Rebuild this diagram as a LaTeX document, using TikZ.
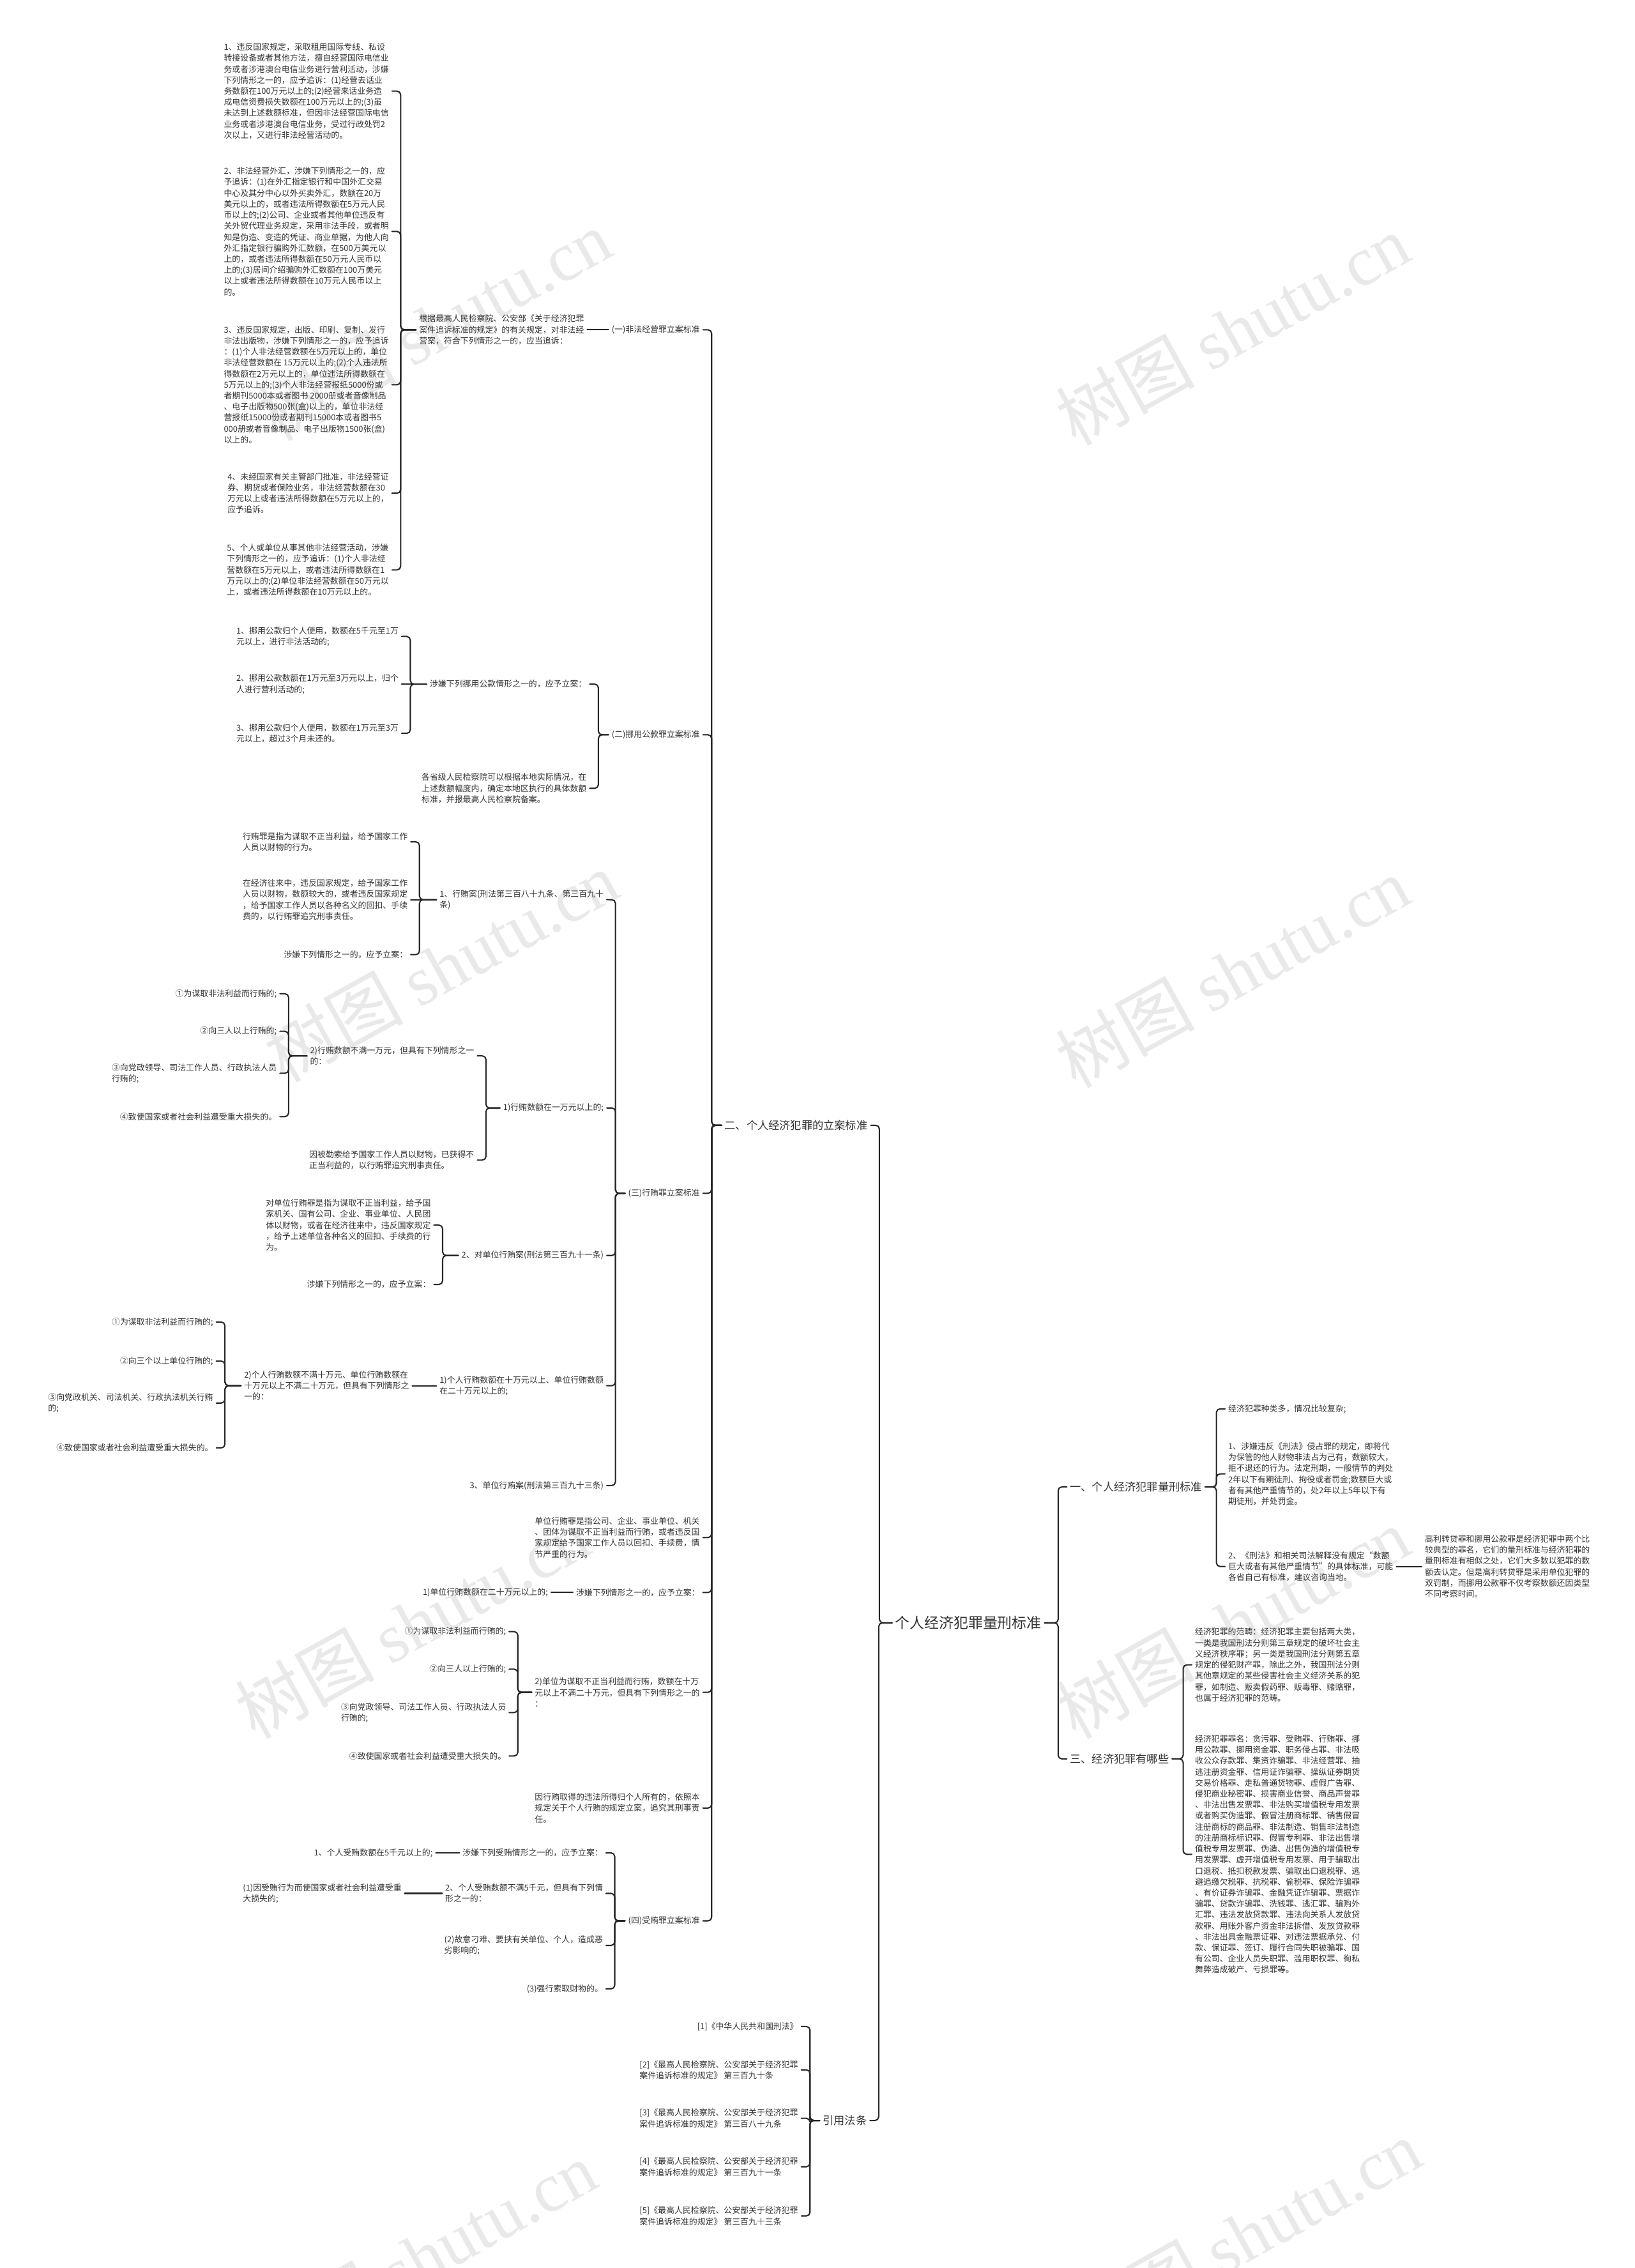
\documentclass[tikz,border=0pt]{standalone}
\usepackage{fontspec}
\setmainfont{Noto Sans CJK SC}
\newfontfamily\wmfont{Liberation Serif}
\begin{document}
\begin{tikzpicture}[x=1pt,y=-1pt,line join=round,line cap=round,
  every node/.style={font=\fontsize{5.7}{7.6}\selectfont,text=black!80,inner xsep=2pt,inner ysep=1pt,align=left},
  link/.style={line width=0.9pt,draw=black!85,rounded corners=2.5pt},
  lvone/.style={font=\fontsize{7.6}{9}\selectfont},
  wmark/.style={font=\fontsize{48}{48}\selectfont,text=gray!17,rotate=29,inner sep=0pt}]
\fill[white] (0,0) rectangle (1130,1568);
\path[use as bounding box] (0,0) rectangle (1130,1568);
% watermark
\foreach \wx/\wy [count=\i] in {300/225,852/228,305/668,852/672,285/1122,852/1122,290/1560,860/1545}
  \node[wmark] (wm\i) at (\wx,\wy) {树图 {\wmfont shutu.cn}};

% root and first level
\node[font=\fontsize{10.1}{12}\selectfont] (root) at (669.5,1122) {个人经济犯罪量刑标准};
\node[lvone,anchor=east] (two) at (602,778) {二、个人经济犯罪的立案标准};
\node[lvone,anchor=east] (cite) at (601.5,1466) {引用法条};
\node[lvone,anchor=west] (one) at (737.6,1028) {一、个人经济犯罪量刑标准};
\node[lvone,anchor=west] (three) at (737.6,1216) {三、经济犯罪有哪些};

% second level under two
\node[anchor=east] (sA) at (486,228) {(一)非法经营罪立案标准};
\node[anchor=east] (sB) at (486,508) {(二)挪用公款罪立案标准};
\node[anchor=east] (sC) at (486,825) {(三)行贿罪立案标准};
\node[anchor=east] (dA) at (486,1063) {单位行贿罪是指公司、企业、事业单位、机关\\、团体为谋取不正当利益而行贿，或者违反国\\家规定给予国家工作人员以回扣、手续费，情\\节严重的行为。};
\node[anchor=east] (dB) at (486,1101) {涉嫌下列情形之一的，应予立案：};
\node[anchor=east] (dC) at (486,1170) {2)单位为谋取不正当利益而行贿，数额在十万\\元以上不满二十万元，但具有下列情形之一的\\：};
\node[anchor=east] (dD) at (486,1250) {因行贿取得的违法所得归个人所有的，依照本\\规定关于个人行贿的规定立案，追究其刑事责\\任。};
\node[anchor=east] (sD) at (486,1328) {(四)受贿罪立案标准};

% (一)
\node[anchor=east] (aA) at (406,228) {根据最高人民检察院、公安部《关于经济犯罪\\案件追诉标准的规定》的有关规定，对非法经\\营案，符合下列情形之一的，应当追诉：};
\node[anchor=east] (eA) at (271,63) {1、违反国家规定，采取租用国际专线、私设\\转接设备或者其他方法，擅自经营国际电信业\\务或者涉港澳台电信业务进行营利活动，涉嫌\\下列情形之一的，应予追诉：(1)经营去话业\\务数额在100万元以上的;(2)经营来话业务造\\成电信资费损失数额在100万元以上的;(3)虽\\未达到上述数额标准，但因非法经营国际电信\\业务或者涉港澳台电信业务，受过行政处罚2\\次以上，又进行非法经营活动的。};
\node[anchor=east] (eB) at (271,160) {2、非法经营外汇，涉嫌下列情形之一的，应\\予追诉：(1)在外汇指定银行和中国外汇交易\\中心及其分中心以外买卖外汇，数额在20万\\美元以上的，或者违法所得数额在5万元人民\\币以上的;(2)公司、企业或者其他单位违反有\\关外贸代理业务规定，采用非法手段，或者明\\知是伪造、变造的凭证、商业单据，为他人向\\外汇指定银行骗购外汇数额，在500万美元以\\上的，或者违法所得数额在50万元人民币以\\上的;(3)居间介绍骗购外汇数额在100万美元\\以上或者违法所得数额在10万元人民币以上\\的。};
\node[anchor=east] (eC) at (271,266) {3、违反国家规定，出版、印刷、复制、发行\\非法出版物，涉嫌下列情形之一的，应予追诉\\：(1)个人非法经营数额在5万元以上的，单位\\非法经营数额在 15万元以上的;(2)个人违法所\\得数额在2万元以上的，单位违法所得数额在\\5万元以上的;(3)个人非法经营报纸5000份或\\者期刊5000本或者图书 2000册或者音像制品\\、电子出版物500张(盒)以上的，单位非法经\\营报纸15000份或者期刊15000本或者图书5\\000册或者音像制品、电子出版物1500张(盒)\\以上的。};
\node[anchor=east] (eD) at (271,341) {4、未经国家有关主管部门批准，非法经营证\\券、期货或者保险业务，非法经营数额在30\\万元以上或者违法所得数额在5万元以上的，\\应予追诉。};
\node[anchor=east] (eE) at (271,394) {5、个人或单位从事其他非法经营活动，涉嫌\\下列情形之一的，应予追诉：(1)个人非法经\\营数额在5万元以上，或者违法所得数额在1\\万元以上的;(2)单位非法经营数额在50万元以\\上，或者违法所得数额在10万元以上的。};

% (二)
\node[anchor=east] (bA) at (407.7,473) {涉嫌下列挪用公款情形之一的，应予立案：};
\node[anchor=east] (bB) at (407.7,545) {各省级人民检察院可以根据本地实际情况，在\\上述数额幅度内，确定本地区执行的具体数额\\标准，并报最高人民检察院备案。};
\node[anchor=east] (cA) at (277.7,440) {1、挪用公款归个人使用，数额在5千元至1万\\元以上，进行非法活动的;};
\node[anchor=east] (cB) at (277.7,473) {2、挪用公款数额在1万元至3万元以上，归个\\人进行营利活动的;};
\node[anchor=east] (cC) at (277.7,507) {3、挪用公款归个人使用，数额在1万元至3万\\元以上，超过3个月未还的。};

% (三)
\node[anchor=east] (fA) at (419.5,622) {1、行贿案(刑法第三百八十九条、第三百九十\\条)};
\node[anchor=east] (fB) at (419.5,766) {1)行贿数额在一万元以上的;};
\node[anchor=east] (fC) at (419.5,868) {2、对单位行贿案(刑法第三百九十一条)};
\node[anchor=east] (fD) at (419.5,958) {1)个人行贿数额在十万元以上、单位行贿数额\\在二十万元以上的;};
\node[anchor=east] (fE) at (419.5,1027) {3、单位行贿案(刑法第三百九十三条)};
\node[anchor=east] (gA) at (284,582) {行贿罪是指为谋取不正当利益，给予国家工作\\人员以财物的行为。};
\node[anchor=east] (gB) at (284,622) {在经济往来中，违反国家规定，给予国家工作\\人员以财物，数额较大的，或者违反国家规定\\，给予国家工作人员以各种名义的回扣、手续\\费的，以行贿罪追究刑事责任。};
\node[anchor=east] (gC) at (284,660) {涉嫌下列情形之一的，应予立案：};
\node[anchor=east] (hA) at (330,730) {2)行贿数额不满一万元，但具有下列情形之一\\的：};
\node[anchor=east] (hB) at (330,802) {因被勒索给予国家工作人员以财物，已获得不\\正当利益的，以行贿罪追究刑事责任。};
\node[anchor=east] (iA) at (193.5,687) {①为谋取非法利益而行贿的;};
\node[anchor=east] (iB) at (193.5,713) {②向三人以上行贿的;};
\node[anchor=east] (iC) at (193.5,742) {③向党政领导、司法工作人员、行政执法人员\\行贿的;};
\node[anchor=east] (iD) at (193.5,772) {④致使国家或者社会利益遭受重大损失的。};
\node[anchor=east] (jA) at (300,847) {对单位行贿罪是指为谋取不正当利益，给予国\\家机关、国有公司、企业、事业单位、人民团\\体以财物，或者在经济往来中，违反国家规定\\，给予上述单位各种名义的回扣、手续费的行\\为。};
\node[anchor=east] (jB) at (300,888) {涉嫌下列情形之一的，应予立案：};
\node[anchor=east] (kA) at (285,958) {2)个人行贿数额不满十万元、单位行贿数额在\\十万元以上不满二十万元，但具有下列情形之\\一的：};
\node[anchor=east] (lA) at (149.5,914) {①为谋取非法利益而行贿的;};
\node[anchor=east] (lB) at (149.5,941) {②向三个以上单位行贿的;};
\node[anchor=east] (lC) at (149.5,970) {③向党政机关、司法机关、行政执法机关行贿\\的;};
\node[anchor=east] (lD) at (149.5,1001) {④致使国家或者社会利益遭受重大损失的。};
\node[anchor=east] (mA) at (381,1101) {1)单位行贿数额在二十万元以上的;};
\node[anchor=east] (oA) at (352,1128) {①为谋取非法利益而行贿的;};
\node[anchor=east] (oB) at (352,1154) {②向三人以上行贿的;};
\node[anchor=east] (oC) at (352,1184) {③向党政领导、司法工作人员、行政执法人员\\行贿的;};
\node[anchor=east] (oD) at (352,1214) {④致使国家或者社会利益遭受重大损失的。};

% (四)
\node[anchor=east] (pA) at (419,1281) {涉嫌下列受贿情形之一的，应予立案：};
\node[anchor=east] (pB) at (419,1309) {2、个人受贿数额不满5千元，但具有下列情\\形之一的：};
\node[anchor=east] (pC) at (419,1345) {(2)故意刁难、要挟有关单位、个人，造成恶\\劣影响的;};
\node[anchor=east] (pD) at (419,1375) {(3)强行索取财物的。};
\node[anchor=east] (qA) at (301.3,1281) {1、个人受贿数额在5千元以上的;};
\node[anchor=east] (qB) at (279.8,1309) {(1)因受贿行为而使国家或者社会利益遭受重\\大损失的;};

% citations
\node[anchor=east] (rA) at (554,1401) {[1]《中华人民共和国刑法》};
\node[anchor=east] (rB) at (554,1431) {[2]《最高人民检察院、公安部关于经济犯罪\\案件追诉标准的规定》 第三百九十条};
\node[anchor=east] (rC) at (554,1464.5) {[3]《最高人民检察院、公安部关于经济犯罪\\案件追诉标准的规定》 第三百八十九条};
\node[anchor=east] (rD) at (554,1498) {[4]《最高人民检察院、公安部关于经济犯罪\\案件追诉标准的规定》 第三百九十一条};
\node[anchor=east] (rE) at (554,1532) {[5]《最高人民检察院、公安部关于经济犯罪\\案件追诉标准的规定》 第三百九十三条};

% right side
\node[anchor=west] (tA) at (847,974) {经济犯罪种类多，情况比较复杂;};
\node[anchor=west] (tB) at (847,1019) {1、涉嫌违反《刑法》侵占罪的规定，即将代\\为保管的他人财物非法占为己有，数额较大，\\拒不退还的行为。法定刑期，一般情节的判处\\2年以下有期徒刑、拘役或者罚金;数额巨大或\\者有其他严重情节的，处2年以上5年以下有\\期徒刑，并处罚金。};
\node[anchor=west] (tC) at (847,1083) {2、《刑法》和相关司法解释没有规定“数额\\巨大或者有其他严重情节”的具体标准，可能\\各省自己有标准，建议咨询当地。};
\node[anchor=west] (uA) at (983,1083) {高利转贷罪和挪用公款罪是经济犯罪中两个比\\较典型的罪名，它们的量刑标准与经济犯罪的\\量刑标准有相似之处，它们大多数以犯罪的数\\额去认定。但是高利转贷罪是采用单位犯罪的\\双罚制，而挪用公款罪不仅考察数额还因类型\\不同考察时间。};
\node[anchor=west] (vA) at (824,1151) {经济犯罪的范畴：经济犯罪主要包括两大类，\\一类是我国刑法分则第三章规定的破坏社会主\\义经济秩序罪；另一类是我国刑法分则第五章\\规定的侵犯财产罪，除此之外，我国刑法分则\\其他章规定的某些侵害社会主义经济关系的犯\\罪，如制造、贩卖假药罪、贩毒罪、赌赂罪，\\也属于经济犯罪的范畴。};
\node[anchor=west] (vB) at (824,1282) {经济犯罪罪名：贪污罪、受贿罪、行贿罪、挪\\用公款罪、挪用资金罪、职务侵占罪、非法吸\\收公众存款罪、集资诈骗罪、非法经营罪、抽\\逃注册资金罪、信用证诈骗罪、操纵证券期货\\交易价格罪、走私普通货物罪、虚假广告罪、\\侵犯商业秘密罪、损害商业信誉、商品声誉罪\\、非法出售发票罪、非法购买增值税专用发票\\或者购买伪造罪、假冒注册商标罪、销售假冒\\注册商标的商品罪、非法制造、销售非法制造\\的注册商标标识罪、假冒专利罪、非法出售增\\值税专用发票罪、伪造、出售伪造的增值税专\\用发票罪、虚开增值税专用发票、用于骗取出\\口退税、抵扣税款发票、骗取出口退税罪、逃\\避追缴欠税罪、抗税罪、偷税罪、保险诈骗罪\\、有价证券诈骗罪、金融凭证诈骗罪、票据诈\\骗罪、贷款诈骗罪、洗钱罪、逃汇罪、骗购外\\汇罪、违法发放贷款罪、违法向关系人发放贷\\款罪、用账外客户资金非法拆借、发放贷款罪\\、非法出具金融票证罪、对违法票据承兑、付\\款、保证罪、签订、履行合同失职被骗罪、国\\有公司、企业人员失职罪、滥用职权罪、徇私\\舞弊造成破产、亏损罪等。};

% connectors
\foreach \c in {two,cite} \draw[link] (\c.east) -- ++(6,0) |- (root.west);
\foreach \c in {one,three} \draw[link] (\c.west) -- ++(-6,0) |- (root.east);
\foreach \c in {sA,sB,sC,dA,dB,dC,dD,sD} \draw[link] (\c.east) -- ++(6,0) |- (two.west);
\draw[link] (aA.east) -- (sA.west);
\foreach \c in {eA,eB,eC,eD,eE} \draw[link] (\c.east) -- ++(6,0) |- (aA.west);
\foreach \c in {bA,bB} \draw[link] (\c.east) -- ++(6,0) |- (sB.west);
\foreach \c in {cA,cC} \draw[link] (\c.east) -- ++(6,0) |- (bA.west);
\draw[link] (cB.east) -- (bA.west);
\foreach \c in {fA,fB,fC,fD,fE} \draw[link] (\c.east) -- ++(6,0) |- (sC.west);
\foreach \c in {gA,gC} \draw[link] (\c.east) -- ++(6,0) |- (fA.west);
\draw[link] (gB.east) -- (fA.west);
\foreach \c in {hA,hB} \draw[link] (\c.east) -- ++(6,0) |- (fB.west);
\foreach \c in {iA,iB,iC,iD} \draw[link] (\c.east) -- ++(6,0) |- (hA.west);
\foreach \c in {jA,jB} \draw[link] (\c.east) -- ++(6,0) |- (fC.west);
\draw[link] (kA.east) -- (fD.west);
\foreach \c in {lA,lB,lC,lD} \draw[link] (\c.east) -- ++(6,0) |- (kA.west);
\draw[link] (mA.east) -- (dB.west);
\foreach \c in {oA,oB,oC,oD} \draw[link] (\c.east) -- ++(6,0) |- (dC.west);
\foreach \c in {pA,pB,pC,pD} \draw[link] (\c.east) -- ++(6,0) |- (sD.west);
\draw[link] (qA.east) -- (pA.west);
\draw[link] (qB.east) -- (pB.west);
\foreach \c in {rA,rB,rC,rD,rE} \draw[link] (\c.east) -- ++(6,0) |- (cite.west);
\foreach \c in {tA,tB,tC} \draw[link] (\c.west) -- ++(-6,0) |- (one.east);
\draw[link] (uA.west) -- (tC.east);
\foreach \c in {vA,vB} \draw[link] (\c.west) -- ++(-6,0) |- (three.east);
\end{tikzpicture}
\end{document}
